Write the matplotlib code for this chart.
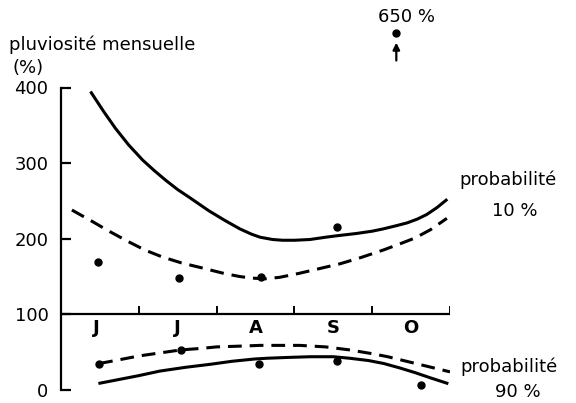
import matplotlib.pyplot as plt

## Data (x in months, 0 = start of June)
months = ["J", "J", "A", "S", "O"]

# probability 10 %
up_solid_x = [0.39, 0.55, 0.7, 0.87, 1.05, 1.2, 1.35, 1.5, 1.66, 1.9, 2.11, 2.3, 2.45, 2.56,
              2.72, 2.85, 3.0, 3.2, 3.4, 3.55, 3.8, 4.0, 4.14, 4.3, 4.45, 4.58, 4.7, 4.83, 4.95]
up_solid_y = [393, 368, 346, 324, 304, 290, 277, 265, 254, 237, 224, 213, 206, 202,
              199, 198, 198, 199, 202, 204, 207, 210, 213, 217, 221, 226, 232, 241, 251]
up_dash_x = [0.14, 0.4, 0.6, 0.85, 1.08, 1.3, 1.55, 1.83, 2.1, 2.3, 2.45, 2.62, 2.81, 3.05,
             3.30, 3.59, 3.85, 4.14, 4.35, 4.55, 4.75, 4.96]
up_dash_y = [238, 223, 211, 197, 185, 176, 168, 161, 154, 150, 148, 147, 149, 154,
             160, 167, 175, 185, 193, 201, 212, 227]
up_pts_x = [0.48, 1.52, 2.57, 3.55]
up_pts_y = [169, 148, 149, 216]
outlier_value = 650

# probability 90 %
lo_dash_x = [0.49, 0.75, 1.0, 1.27, 1.54, 1.8, 2.0, 2.3, 2.56, 2.8, 3.07, 3.4, 3.71, 4.0,
             4.2, 4.36, 4.6, 4.8, 5.0]
lo_dash_y = [35, 40, 45, 49, 53, 55, 57, 58, 59, 59, 59, 57, 53, 48, 44, 40, 34, 29, 24]
lo_solid_x = [0.5, 0.75, 1.0, 1.27, 1.6, 1.92, 2.2, 2.49, 2.65, 2.9, 3.2, 3.5, 3.71, 3.95,
              4.15, 4.36, 4.55, 4.75, 4.96]
lo_solid_y = [9, 14, 19, 25, 30, 34, 38, 41, 42, 43, 44, 44, 42, 39, 35, 29, 23, 16, 9]
lo_pts_x = [0.49, 1.54, 2.55, 3.55, 4.63]
lo_pts_y = [35, 53, 35, 39, 7]

plt.rcParams['font.family'] = 'DejaVu Sans'
fs = 13

fig = plt.figure(figsize=(5.76, 4.03), dpi=100)
ax = fig.add_axes([61 / 576, 13 / 403, 389 / 576, 302.5 / 403])
ax.set_xlim(0, 5)
ax.set_ylim(0, 400)

# axes
for s in ["top", "right", "bottom"]:
    ax.spines[s].set_visible(False)
ax.spines["left"].set_linewidth(1.6)
ax.set_xticks([])
ax.set_yticks([0, 100, 200, 300, 400])
ax.tick_params(axis="y", direction="in", length=7, width=1.6, pad=9, labelsize=fs)

# month axis drawn at 100
ax.plot([0, 5], [100, 100], color="k", lw=1.6, solid_capstyle="butt")
for i in range(1, 6):
    ax.plot([i, i], [100, 110], color="k", lw=1.4)
for i, m in enumerate(months):
    ax.text(i + 0.45 if i == 0 else i + 0.5, 82, m, ha="center", va="center",
            fontsize=fs, fontweight="bold")

# curves
ls_dash = (0, (4.5, 2.6))
kw = dict(color="k", lw=2.2, solid_joinstyle="round", dash_joinstyle="round")
ax.plot(up_solid_x, up_solid_y, **kw)
ax.plot(up_dash_x, up_dash_y, linestyle=ls_dash, **kw)
ax.plot(lo_solid_x, lo_solid_y, **kw)
ax.plot(lo_dash_x, lo_dash_y, linestyle=ls_dash, **kw)
ax.plot(up_pts_x, up_pts_y, "o", color="k", ms=5)
ax.plot(lo_pts_x, lo_pts_y, "o", color="k", ms=5, clip_on=False)

# off-scale point
ax.plot([4.31], [472], "o", color="k", ms=5, clip_on=False)
ax.annotate("", xy=(4.31, 463), xytext=(4.31, 432), annotation_clip=False,
            arrowprops=dict(arrowstyle="-|>", lw=1.6, color="k", mutation_scale=10))
fig.text(406 / 576, 1 - 17 / 403, "%d %%" % outlier_value, ha="center", va="center", fontsize=fs)

# labels
fig.text(9 / 576, 1 - 45 / 403, "pluviosité mensuelle", ha="left", va="center", fontsize=fs)
fig.text(12 / 576, 1 - 68 / 403, "(%)", ha="left", va="center", fontsize=fs)
fig.text(459 / 576, 1 - 180 / 403, "probabilité", ha="left", va="center", fontsize=fs)
fig.text(492 / 576, 1 - 211 / 403, "10 %", ha="left", va="center", fontsize=fs)
fig.text(460 / 576, 1 - 367 / 403, "probabilité", ha="left", va="center", fontsize=fs)
fig.text(495 / 576, 1 - 392 / 403, "90 %", ha="left", va="center", fontsize=fs)

fig.savefig("out.png", dpi=100)
